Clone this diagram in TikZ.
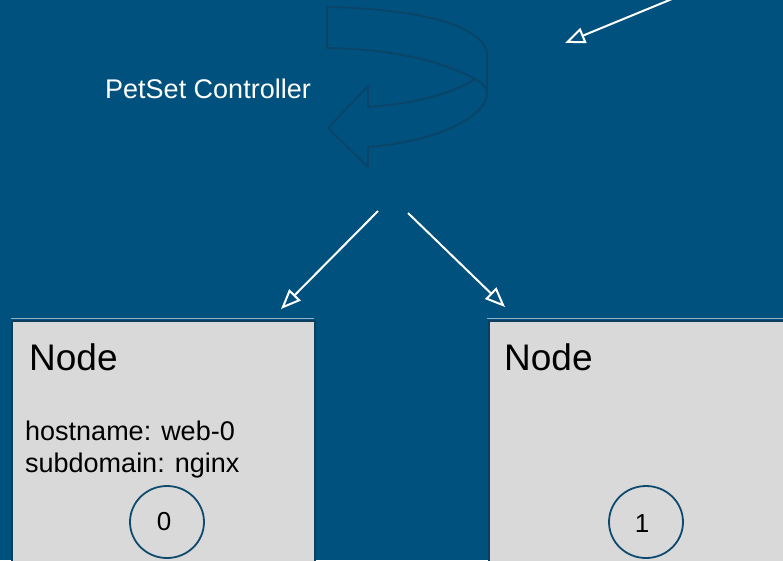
\documentclass[tikz,border=0pt]{standalone}
\usepackage{fontspec}
\setmainfont{Liberation Sans}
\usetikzlibrary{arrows.meta,shapes.geometric}
\definecolor{bgblue}{RGB}{0,81,125}
\definecolor{ribbon}{RGB}{10,68,104}
\definecolor{boxgray}{RGB}{217,217,217}
\definecolor{boxedge}{RGB}{12,62,94}
\definecolor{topline}{RGB}{150,176,194}
\definecolor{podring}{RGB}{14,74,110}
\tikzset{
  flow/.style={draw=white, line width=2pt,
    -{Triangle[open, length=20pt, width=16pt, line width=2pt]}},
  hostbox/.style={rectangle, fill=boxgray, draw=boxedge, line width=1.5pt,
    anchor=north west, inner sep=0pt},
  pod/.style={ellipse, draw=podring, line width=1.8pt, minimum width=74pt,
    minimum height=72pt, inner sep=0pt},
  podnum/.style={font=\fontsize{26}{30}\selectfont, text=black},
  big/.style={font=\fontsize{37}{42}\selectfont, anchor=base west, inner sep=0pt},
  small/.style={font=\fontsize{27}{32}\selectfont, anchor=base west, inner sep=0pt},
}
\begin{document}
\begin{tikzpicture}[x=1pt,y=-1pt]
  % background
  \fill[bgblue] (0,0) rectangle (783,560);
  \useasboundingbox (0,0) rectangle (783,560);

  % controller: curved ribbon arrow
  \draw[ribbon, line width=1.8pt, line join=round]
    (327,7) .. controls (420,9) and (480,25) .. (487,52)
    -- (487,97)
    .. controls (478,125) and (420,143) .. (368,147)
    -- (368,167) -- (328,128) -- (368,86) -- (368,107)
    .. controls (410,104) and (450,95) .. (475,79);
  \draw[ribbon, line width=1.8pt, line join=round]
    (327,7) -- (327,48)
    .. controls (390,49) and (440,60) .. (475,79)
    .. controls (482,83) and (487,88) .. (487,92);
  \node[small, text=white] (ctrl) at (105,98) {PetSet Controller};

  % host boxes
  \draw[topline, line width=1pt] (11,318) -- (314,318);
  \draw[topline, line width=1pt] (487,318) -- (790,318);
  \node[hostbox, minimum width=303pt, minimum height=260pt] (n0) at (11,320) {};
  \node[hostbox, minimum width=310pt, minimum height=260pt] (n1) at (488,320) {};

  \node[big] (t0) at (29,370) {Node};
  \node[big] (t1) at (504,370) {Node};
  \node[small] (h0) at (25,440) {hostname: web-0};
  \node[small] (s0) at (25,472) {subdomain: nginx};

  % pods
  \node[pod] (p0) at (167,522) {};
  \node[pod] (p1) at (646,522) {};
  \node[podnum] at ([xshift=-3pt]p0.center) {0};
  \node[podnum] at ([xshift=-4pt,yshift=-2pt]p1.center) {1};

  % connectors
  \coordinate (a0) at (378,211);
  \coordinate (b0) at (281,309);
  \coordinate (a1) at (408,213);
  \coordinate (b1) at (505,307);
  \coordinate (c0) at (672,-1);
  \coordinate (c1) at (565,43);
  \draw[flow] (a0) -- (b0);
  \draw[flow] (a1) -- (b1);
  \draw[flow] (c0) -- (c1);
\end{tikzpicture}
\end{document}
